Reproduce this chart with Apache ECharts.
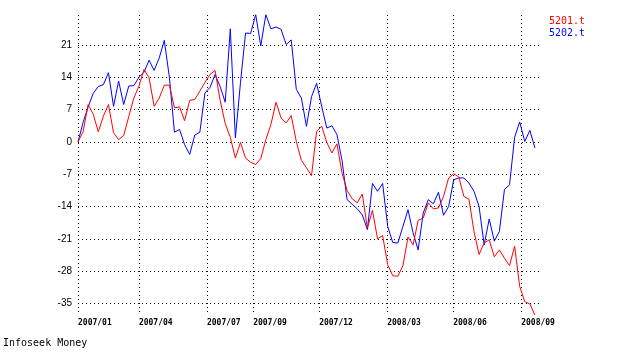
<!DOCTYPE html>
<html>
<head>
<meta charset="utf-8">
<script src="https://cdn.jsdelivr.net/npm/echarts@6/dist/echarts.min.js"></script>
<style>
html,body{margin:0;padding:0;background:#fff;}
#chart{width:630px;height:359px;}
</style>
</head>
<body>
<div id="chart"></div>
<script>
// weekly observations, index 0 = first week of 2007/01
const seriesNames = ['5201.t', '5202.t'];
const s5201 = [
  0, 2.2, 8.1, 6, 2.2, 5.6, 8.1, 2.0, 0.5, 1.4,
  5.5, 9.5, 12.1, 15.7, 13.9, 7.7, 9.5, 12.3, 12.3, 7.4,
  7.6, 4.6, 9.0, 9.2, 11, 12.9, 14.6, 15.5, 9, 4,
  1, -3.5, -0.1, -3.5, -4.4, -4.9, -3.6, 0.5, 3.8, 8.6,
  5.2, 4.1, 5.7, 0.1, -4, -5.6, -7.3, 2.3, 3.4, -0.1,
  -2.4, -0.4, -6.7, -10.5, -12.3, -13.2, -11.3, -18.7, -14.8, -21,
  -20.3, -26.6, -29, -29.1, -26.8, -20.6, -22.3, -17, -16.5, -13.2,
  -14.5, -14.3, -11.8, -7.8, -6.9, -7.6, -11.8, -12.4, -19.4, -24.4,
  -21.9, -21.2, -24.9, -23.4, -25.2, -26.8, -22.6, -31.3, -34.6, -35.1,
  -37.5
];
const s5202 = [
  0, 4.2, 7.6, 10.5, 12, 12.4, 15, 7.7, 13.2, 8.1,
  12.1, 12.2, 14, 15.1, 17.7, 15.5, 18.2, 22, 14, 2.1,
  2.7, -0.6, -2.7, 1.5, 2.1, 10.6, 11.8, 14.6, 12, 8.6,
  24.5, 0.9, 12.8, 23.6, 23.5, 27.6, 20.8, 27.6, 24.5, 24.9,
  24.4, 21.1, 22.1, 11.4, 9.5, 3.4, 9.8, 12.7, 7.7, 3.0,
  3.5, 1.6, -4, -12.5, -13.5, -14.5, -15.8, -19, -9, -10.7,
  -9, -18.3, -21.8, -21.9, -18.3, -14.7, -19.7, -23.4, -15.4, -12.5,
  -13.4, -10.9, -15.9, -14, -8.2, -7.8, -7.8, -8.9, -10.7, -14,
  -22.3, -16.7, -21.5, -19.4, -10.3, -9.3, 1, 4.3, 0.1, 2.5,
  -1.3
];
const xTickLabels = ['2007/01', '2007/04', '2007/07', '2007/09', '2007/12', '2008/03', '2008/06', '2008/09'];
const xTickWeeks = [0, 12.0, 25.4, 34.5, 47.5, 60.9, 73.9, 87.3];
const yTicks = [-35, -28, -21, -14, -7, 0, 7, 14, 21];

const toPairs = arr => arr.map((v, i) => [i, v]);
const labelFor = v => {
  for (let k = 0; k < xTickWeeks.length; k++) {
    if (Math.abs(xTickWeeks[k] - v) < 1e-6) return xTickLabels[k];
  }
  return '';
};

const chart = echarts.init(document.getElementById('chart'), null, {renderer: 'canvas'});
const dotted = {show: true, lineStyle: {color: '#000', width: 1, type: [1, 3]}};
chart.setOption({
  animation: false,
  backgroundColor: '#fff',
  grid: {left: 78, right: 90, top: 15, bottom: 44},
  xAxis: {
    type: 'value', min: 0, max: 91,
    axisLine: {show: false},
    axisTick: {show: false, customValues: xTickWeeks},
    axisLabel: {
      customValues: xTickWeeks, formatter: labelFor, align: 'left', margin: 4,
      color: '#000', fontFamily: 'DejaVu Sans Mono', fontWeight: 'bold', fontSize: 8
    },
    splitLine: dotted
  },
  yAxis: {
    type: 'value', min: -37.5, max: 27.5,
    axisLine: {show: false},
    axisTick: {show: false, customValues: yTicks},
    axisLabel: {
      customValues: yTicks, margin: 6, color: '#000',
      fontFamily: 'Liberation Sans', fontSize: 10
    },
    splitLine: dotted
  },
  graphic: [
    {type: 'text', left: 3, top: 338, style: {text: 'Infoseek Money', fill: '#000', font: '10px "DejaVu Sans Mono"'}},
    {type: 'text', right: 45, top: 16, style: {text: seriesNames[0], fill: '#ff0000', font: '10px "DejaVu Sans Mono"'}},
    {type: 'text', right: 45, top: 28, style: {text: seriesNames[1], fill: '#0000ff', font: '10px "DejaVu Sans Mono"'}}
  ],
  series: [
    {name: seriesNames[0], type: 'line', data: toPairs(s5201), showSymbol: false, lineStyle: {color: '#ff0000', width: 1}, z: 3},
    {name: seriesNames[1], type: 'line', data: toPairs(s5202), showSymbol: false, lineStyle: {color: '#0000ff', width: 1}, z: 2}
  ]
});
</script>
</body>
</html>
